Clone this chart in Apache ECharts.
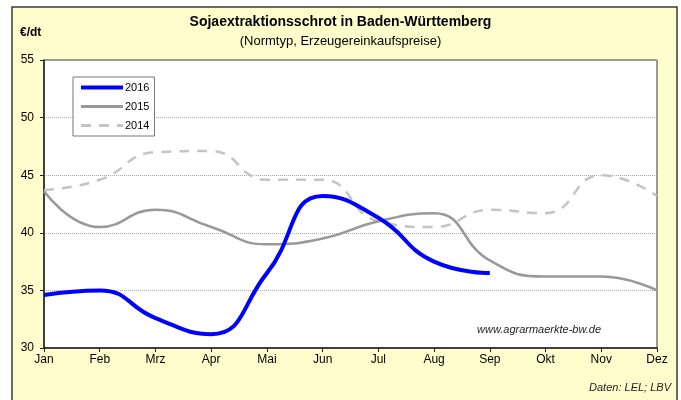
<!DOCTYPE html>
<html>
<head>
<meta charset="utf-8">
<script src="https://cdn.jsdelivr.net/npm/echarts@6/dist/echarts.min.js"></script>
<style>
  html, body { margin: 0; padding: 0; background: #fff; }
  #main { width: 681px; height: 400px; }
</style>
</head>
<body>
<div id="main"></div>
<script>
// Monate
var months = ["Jan", "Feb", "Mrz", "Apr", "Mai", "Jun", "Jul", "Aug", "Sep", "Okt", "Nov", "Dez"];
// Preise €/dt
var data2016 = [34.6, 35.0, 32.6, 31.2, 36.5, 43.2, 41.3, 37.5, 36.5];
var data2015 = [43.6, 40.5, 42.0, 40.5, 39.0, 39.5, 41.0, 41.7, 37.6, 36.2, 36.2, 35.0];
var data2014 = [43.7, 44.6, 47.0, 47.1, 44.6, 44.6, 41.0, 40.5, 42.0, 41.7, 45.0, 43.2];
var yTicks = [30, 35, 40, 45, 50, 55];

(function () {
    var myChart = echarts.init(document.getElementById("main"));
    var font = "Liberation Sans, Arial, sans-serif";
    var option = {
        backgroundColor: "#fff",
        animation: false,
        textStyle: { fontFamily: font },
        graphic: [
            {
                type: "rect",
                z: -10,
                shape: { x: 12, y: 7, width: 665, height: 400 },
                style: { fill: "#FFFDCC", stroke: "#3a3a3a", lineWidth: 1.5 }
            },
            {
                type: "text", left: "center", top: 15,
                style: { text: "Sojaextraktionsschrot in Baden-Württemberg", font: "bold 14px " + font, fill: "#000" }
            },
            {
                type: "text", left: "center", top: 35,
                style: { text: "(Normtyp, Erzeugereinkaufspreise)", font: "13px " + font, fill: "#000" }
            },
            {
                type: "text", left: 20, top: 27,
                style: { text: "€/dt", font: "bold 12px " + font, fill: "#000" }
            },
            {
                type: "text", left: 477, top: 324,
                style: { text: "www.agrarmaerkte-bw.de", font: "italic 11px " + font, fill: "#222" }
            },
            {
                type: "text", right: 10, top: 382,
                style: { text: "Daten: LEL; LBV", font: "italic 11px " + font, fill: "#222" }
            }
        ],
        legend: {
            orient: "vertical",
            left: 73,
            top: 77,
            padding: [5, 5, 5, 6],
            itemGap: 8,
            itemWidth: 42,
            itemHeight: 12,
            backgroundColor: "#fff",
            borderColor: "#777",
            borderWidth: 1,
            itemStyle: { opacity: 0 },
            textStyle: { fontSize: 11, color: "#000", padding: [0, 0, 0, -3] },
            data: [
                { name: "2016", lineStyle: { width: 4 } },
                { name: "2015", lineStyle: { width: 3 } },
                { name: "2014", lineStyle: { width: 3 } }
            ]
        },
        grid: {
            left: 44,
            right: 24,
            top: 60,
            bottom: 52,
            show: true,
            backgroundColor: "#fff",
            borderColor: "#333",
            borderWidth: 1
        },
        xAxis: {
            type: "category",
            data: months,
            boundaryGap: false,
            axisLine: { lineStyle: { color: "#222", width: 1.5 } },
            axisTick: { show: true, length: 4, lineStyle: { color: "#222" } },
            axisLabel: { color: "#000", fontSize: 12, margin: 6 }
        },
        yAxis: {
            type: "value",
            min: yTicks[0],
            max: yTicks[yTicks.length - 1],
            interval: 5,
            axisLine: { show: true, lineStyle: { color: "#222", width: 1.5 } },
            axisTick: { show: true, length: 4, lineStyle: { color: "#222" } },
            axisLabel: { color: "#000", fontSize: 12, margin: 10 },
            splitLine: { show: true, lineStyle: { color: "#aaa", type: "dotted", width: 1 } }
        },
        series: [
            {
                name: "2014", type: "line", data: data2014, smooth: 0.5,
                symbol: "none", z: 1,
                itemStyle: { color: "#c4c4c4" },
                lineStyle: { color: "#c4c4c4", width: 2.5, type: [10, 8] }
            },
            {
                name: "2015", type: "line", data: data2015, smooth: 0.5,
                symbol: "none", z: 2,
                itemStyle: { color: "#999" },
                lineStyle: { color: "#999", width: 2.5 }
            },
            {
                name: "2016", type: "line", data: data2016, smooth: 0.5,
                symbol: "none", z: 3,
                itemStyle: { color: "#0000ff" },
                lineStyle: { color: "#0000ff", width: 4 }
            }
        ]
    };
    myChart.setOption(option);
})();
</script>
</body>
</html>
